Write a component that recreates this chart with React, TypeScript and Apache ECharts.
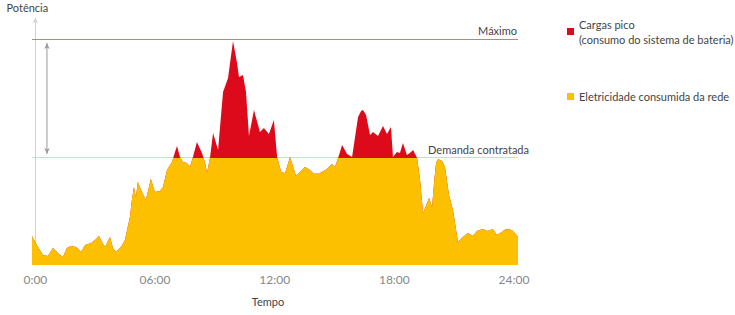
import React, { useEffect, useRef } from "react";
import * as echarts from "echarts";

// Time of day (hours) and total power demand (arbitrary units)
const HOURS = [
  -0.17, 0.13, 0.38, 0.63, 0.88, 1.13, 1.38, 1.58, 1.79, 2.04, 2.29, 2.49, 2.79, 2.99, 3.19, 3.34,
  3.49, 3.74, 3.89, 4.04, 4.29, 4.49, 4.74, 4.84, 4.94, 5.04, 5.14, 5.34, 5.54, 5.79, 5.99, 6.24,
  6.4, 6.6, 6.85, 7.0, 7.1, 7.25, 7.4, 7.6, 7.75, 7.9, 8.1, 8.35, 8.51, 8.61, 8.76, 8.91,
  9.16, 9.41, 9.66, 9.91, 10.11, 10.21, 10.41, 10.56, 10.71, 10.96, 11.26, 11.46, 11.71, 11.96, 12.12, 12.32,
  12.52, 12.77, 13.07, 13.52, 13.77, 13.92, 14.27, 14.62, 14.87, 15.02, 15.18, 15.38, 15.63, 15.88, 16.18, 16.33,
  16.43, 16.58, 16.78, 16.93, 17.18, 17.43, 17.63, 17.83, 17.93, 18.13, 18.28, 18.43, 18.63, 18.78, 18.94, 19.14,
  19.29, 19.44, 19.64, 19.74, 19.89, 19.99, 20.09, 20.19, 20.39, 20.54, 20.74, 20.94, 21.19, 21.44, 21.69, 21.94,
  22.14, 22.44, 22.69, 22.94, 23.14, 23.39, 23.59, 23.89, 24.04, 24.2,
];
const LOAD = [
  29, 18, 10, 9, 17, 12, 8, 17, 19, 18, 13, 20, 22, 25, 29, 23,
  18, 28, 17, 13, 18, 25, 48, 65, 78, 68, 83, 73, 65, 86, 73, 74,
  78, 95, 103, 113, 119, 108, 103, 102, 98, 108, 123, 112, 102, 92, 108, 132,
  115, 173, 187, 224, 202, 188, 190, 173, 129, 155, 133, 137, 131, 145, 108, 93,
  92, 108, 89, 98, 95, 92, 92, 96, 101, 98, 107, 120, 111, 108, 148, 154,
  155, 150, 130, 133, 129, 139, 131, 138, 108, 113, 112, 122, 110, 112, 115, 107,
  85, 52, 62, 67, 58, 82, 102, 106, 104, 98, 70, 55, 23, 28, 32, 29,
  34, 36, 34, 36, 30, 33, 36, 35, 32, 28,
];

const DEMAND = 107.5; // contracted demand
const MAXIMUM = 225.5; // maximum
const ARROW_HOUR = 0.58;

const TICK_HOURS = [0, 6, 12, 18, 24];
const TICK_LABELS = ["0:00", "06:00", "12:00", "18:00", "24:00"];

const PEAK_NAME = "Cargas pico\n(consumo do sistema de bateria)";
const GRID_NAME = "Eletricidade consumida da rede";
const MAX_NAME = "Máximo";
const DEMAND_NAME = "Demanda contratada";

const RED = "#DD0A1C";
const YELLOW = "#FCC000";
const MAX_LINE = "#E4707A";
const DEMAND_LINE = "#F3D68A";
const FONT = "Lato, 'Open Sans', sans-serif";

export default function App() {
  const ref = useRef<HTMLDivElement>(null);

  useEffect(() => {
    if (!ref.current) return;
    const chart = echarts.init(ref.current, null, { renderer: "svg" });
    const data = HOURS.map((h, i) => [h, LOAD[i]]);
    const first = HOURS[0];
    const last = HOURS[HOURS.length - 1];
    // area polygon spans value 0 .. max(LOAD); split colour at the contracted demand
    const split = 1 - DEMAND / Math.max(...LOAD);
    const gridFill = new echarts.graphic.LinearGradient(0, 0, 0, 1, [
      { offset: 0, color: "rgba(252,192,0,0)" },
      { offset: split, color: "rgba(252,192,0,0)" },
      { offset: split, color: YELLOW },
      { offset: 1, color: YELLOW },
    ]);

    chart.setOption({
      animation: false,
      backgroundColor: "#ffffff",
      textStyle: { fontFamily: FONT },
      grid: { left: 32, right: 217, top: 18, bottom: 50 },
      legend: {
        orient: "vertical",
        left: 567,
        top: 16.5,
        padding: 0,
        itemGap: 42.5,
        itemWidth: 7,
        itemHeight: 7,
        icon: "rect",
        selectedMode: false,
        textStyle: { fontSize: 11, color: "#444", lineHeight: 15, fontFamily: FONT },
        data: [
          { name: PEAK_NAME, itemStyle: { color: RED } },
          { name: GRID_NAME, itemStyle: { color: YELLOW } },
        ],
      },
      xAxis: {
        type: "value",
        min: first,
        max: last,
        name: "Tempo",
        nameLocation: "middle",
        nameGap: 31,
        nameTextStyle: { color: "#444", fontSize: 11, padding: [0, 14, 0, 0], fontFamily: FONT },
        axisLine: { show: false },
        axisTick: { show: false },
        splitLine: { show: false },
        axisLabel: {
          customValues: TICK_HOURS,
          formatter: (v: number) => {
            const i = TICK_HOURS.indexOf(Math.round(v));
            return i >= 0 ? TICK_LABELS[i] : "";
          },
          color: "#888",
          fontSize: 12,
          margin: 8,
          fontFamily: FONT,
        },
      },
      yAxis: {
        type: "value",
        min: 0,
        max: 247,
        name: "Potência",
        nameLocation: "end",
        nameGap: 5,
        nameTextStyle: { color: "#444", fontSize: 11, padding: [0, 16, 0, 0], fontFamily: FONT },
        axisLine: {
          show: true,
          symbol: ["none", "arrow"],
          symbolSize: [4, 5],
          lineStyle: { color: "#d0d0d0", width: 1 },
        },
        axisTick: { show: false },
        axisLabel: { show: false },
        splitLine: { show: false },
      },
      series: [
        {
          name: PEAK_NAME,
          type: "line",
          data,
          symbol: "none",
          showSymbol: false,
          itemStyle: { color: RED },
          lineStyle: { width: 0, color: RED },
          areaStyle: { color: RED, opacity: 1 },
          z: 2,
        },
        {
          name: GRID_NAME,
          type: "line",
          data,
          symbol: "none",
          showSymbol: false,
          itemStyle: { color: YELLOW },
          lineStyle: { width: 0 },
          areaStyle: { color: gridFill, opacity: 1 },
          z: 3,
        },
        {
          name: MAX_NAME,
          type: "line",
          silent: true,
          symbol: "none",
          showSymbol: false,
          itemStyle: { color: MAX_LINE },
          lineStyle: { color: MAX_LINE, width: 1 },
          data: [
            [first, MAXIMUM],
            [last, MAXIMUM],
          ],
          z: 1,
        },
        {
          name: DEMAND_NAME,
          type: "line",
          silent: true,
          symbol: "none",
          showSymbol: false,
          itemStyle: { color: DEMAND_LINE },
          lineStyle: { color: DEMAND_LINE, width: 1 },
          data: [
            [first, DEMAND],
            [last, DEMAND],
          ],
          z: 1,
        },
        {
          name: "range",
          type: "line",
          silent: true,
          symbol: "arrow",
          symbolSize: [4, 6],
          showSymbol: true,
          itemStyle: { color: "#9a9a9a" },
          lineStyle: { color: "#9a9a9a", width: 1 },
          z: 4,
          data: [
            { value: [ARROW_HOUR, DEMAND + 3.5], symbolRotate: 180 },
            { value: [ARROW_HOUR, MAXIMUM - 3.5] },
          ],
        },
      ],
    });

    // Labels of the reference lines, anchored at the lines' right ends through the axes
    const maxEnd = chart.convertToPixel({ gridIndex: 0 }, [last, MAXIMUM]) as number[];
    const demEnd = chart.convertToPixel({ gridIndex: 0 }, [last, DEMAND]) as number[];
    const labelStyle = { fill: "#444", fontSize: 11, fontFamily: FONT, align: "right", verticalAlign: "bottom" };
    chart.setOption({
      graphic: [
        { type: "text", x: maxEnd[0] - 1, y: maxEnd[1] - 4, silent: true, style: { ...labelStyle, text: MAX_NAME } },
        { type: "text", x: demEnd[0] + 11, y: demEnd[1] - 3, silent: true, style: { ...labelStyle, text: DEMAND_NAME } },
      ],
    });

    return () => chart.dispose();
  }, []);

  return (
    <div
      ref={ref}
      style={{ position: "fixed", left: 0, top: 0, width: 735, height: 315, background: "#fff" }}
    />
  );
}
